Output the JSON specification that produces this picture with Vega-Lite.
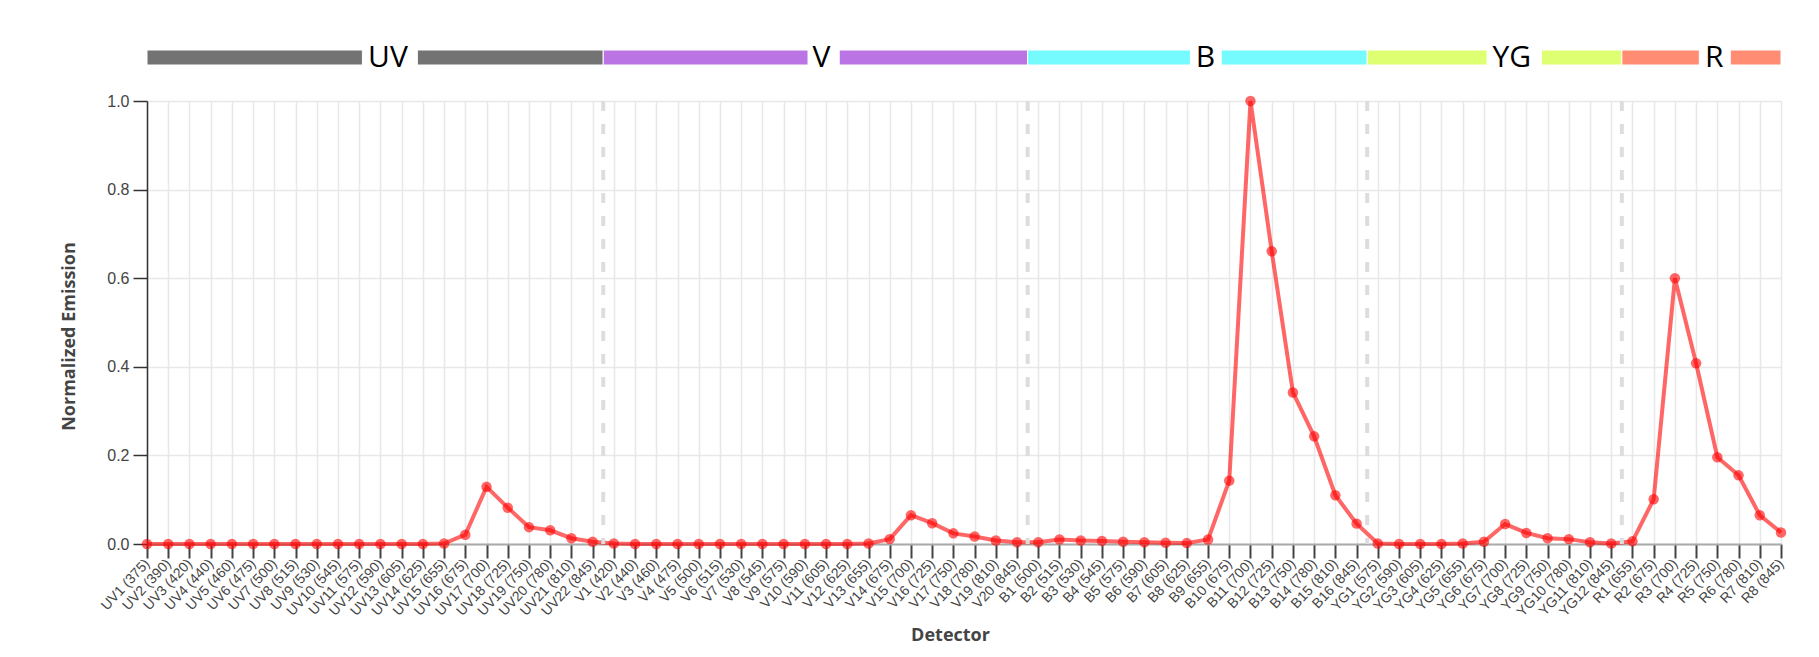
{
  "$schema": "https://vega.github.io/schema/vega-lite/v6.json",
  "padding": {"left": 60, "top": 42, "right": 10, "bottom": 10},
  "background": "white",
  "config": {
    "view": {"stroke": null},
    "axis": {"labelFont": "Liberation Sans", "titleFont": "Open Sans", "labelColor": "#444", "titleColor": "#444"}
  },
  "datasets": {
    "emission": [
      {"detector": "UV1 (375)", "value": 0},
      {"detector": "UV2 (390)", "value": 0},
      {"detector": "UV3 (420)", "value": 0},
      {"detector": "UV4 (440)", "value": 0},
      {"detector": "UV5 (460)", "value": 0},
      {"detector": "UV6 (475)", "value": 0},
      {"detector": "UV7 (500)", "value": 0},
      {"detector": "UV8 (515)", "value": 0},
      {"detector": "UV9 (530)", "value": 0},
      {"detector": "UV10 (545)", "value": 0},
      {"detector": "UV11 (575)", "value": 0},
      {"detector": "UV12 (590)", "value": 0},
      {"detector": "UV13 (605)", "value": 0},
      {"detector": "UV14 (625)", "value": 0},
      {"detector": "UV15 (655)", "value": 0.001},
      {"detector": "UV16 (675)", "value": 0.021},
      {"detector": "UV17 (700)", "value": 0.129},
      {"detector": "UV18 (725)", "value": 0.082},
      {"detector": "UV19 (750)", "value": 0.038},
      {"detector": "UV20 (780)", "value": 0.031},
      {"detector": "UV21 (810)", "value": 0.013},
      {"detector": "UV22 (845)", "value": 0.005},
      {"detector": "V1 (420)", "value": 0.001},
      {"detector": "V2 (440)", "value": 0},
      {"detector": "V3 (460)", "value": 0},
      {"detector": "V4 (475)", "value": 0},
      {"detector": "V5 (500)", "value": 0},
      {"detector": "V6 (515)", "value": 0},
      {"detector": "V7 (530)", "value": 0},
      {"detector": "V8 (545)", "value": 0},
      {"detector": "V9 (575)", "value": 0},
      {"detector": "V10 (590)", "value": 0},
      {"detector": "V11 (605)", "value": 0},
      {"detector": "V12 (625)", "value": 0},
      {"detector": "V13 (655)", "value": 0.001},
      {"detector": "V14 (675)", "value": 0.011},
      {"detector": "V15 (700)", "value": 0.065},
      {"detector": "V16 (725)", "value": 0.047},
      {"detector": "V17 (750)", "value": 0.024},
      {"detector": "V18 (780)", "value": 0.017},
      {"detector": "V19 (810)", "value": 0.008},
      {"detector": "V20 (845)", "value": 0.004},
      {"detector": "B1 (500)", "value": 0.004},
      {"detector": "B2 (515)", "value": 0.01},
      {"detector": "B3 (530)", "value": 0.008},
      {"detector": "B4 (545)", "value": 0.007},
      {"detector": "B5 (575)", "value": 0.005},
      {"detector": "B6 (590)", "value": 0.004},
      {"detector": "B7 (605)", "value": 0.003},
      {"detector": "B8 (625)", "value": 0.002},
      {"detector": "B9 (655)", "value": 0.01},
      {"detector": "B10 (675)", "value": 0.143},
      {"detector": "B11 (700)", "value": 1.0},
      {"detector": "B12 (725)", "value": 0.661},
      {"detector": "B13 (750)", "value": 0.342},
      {"detector": "B14 (780)", "value": 0.243},
      {"detector": "B15 (810)", "value": 0.11},
      {"detector": "B16 (845)", "value": 0.046},
      {"detector": "YG1 (575)", "value": 0.001},
      {"detector": "YG2 (590)", "value": 0},
      {"detector": "YG3 (605)", "value": 0},
      {"detector": "YG4 (625)", "value": 0},
      {"detector": "YG5 (655)", "value": 0.001},
      {"detector": "YG6 (675)", "value": 0.005},
      {"detector": "YG7 (700)", "value": 0.045},
      {"detector": "YG8 (725)", "value": 0.025},
      {"detector": "YG9 (750)", "value": 0.013},
      {"detector": "YG10 (780)", "value": 0.011},
      {"detector": "YG11 (810)", "value": 0.004},
      {"detector": "YG12 (845)", "value": 0.001},
      {"detector": "R1 (655)", "value": 0.006},
      {"detector": "R2 (675)", "value": 0.101},
      {"detector": "R3 (700)", "value": 0.6},
      {"detector": "R4 (725)", "value": 0.408},
      {"detector": "R5 (750)", "value": 0.196},
      {"detector": "R6 (780)", "value": 0.155},
      {"detector": "R7 (810)", "value": 0.065},
      {"detector": "R8 (845)", "value": 0.026}
    ],
    "segments": [
      {"group": "UV", "start": 0, "end": 10.15},
      {"group": "UV", "start": 12.74, "end": 21.5},
      {"group": "V", "start": 21.5, "end": 31.15},
      {"group": "V", "start": 32.62, "end": 41.5},
      {"group": "B", "start": 41.5, "end": 49.17},
      {"group": "B", "start": 50.62, "end": 57.5},
      {"group": "YG", "start": 57.5, "end": 63.15},
      {"group": "YG", "start": 65.71, "end": 69.5},
      {"group": "R", "start": 69.5, "end": 73.15},
      {"group": "R", "start": 74.61, "end": 77}
    ],
    "labels": [
      {"group": "UV", "pos": 10.42},
      {"group": "V", "pos": 31.36},
      {"group": "B", "pos": 49.42},
      {"group": "YG", "pos": 63.4},
      {"group": "R", "pos": 73.42}
    ],
    "bounds": [
      {"pos": 21.5},
      {"pos": 41.5},
      {"pos": 57.5},
      {"pos": 69.5}
    ]
  },
  "bounds": "flush",
  "spacing": 36,
  "vconcat": [
    {
      "width": 1634,
      "height": 15,
      "layer": [
        {
          "data": {"name": "segments"},
          "mark": {"type": "rect", "stroke": "white", "strokeWidth": 1},
          "encoding": {
            "x": {"field": "start", "type": "quantitative", "scale": {"domain": [0, 77], "nice": false, "zero": false}, "axis": null},
            "x2": {"field": "end"},
            "color": {
              "field": "group",
              "type": "nominal",
              "legend": null,
              "scale": {"domain": ["UV", "V", "B", "YG", "R"], "range": ["#737373", "#ba74e3", "#75fafd", "#dfff73", "#ff8c73"]}
            }
          }
        },
        {
          "data": {"name": "labels"},
          "mark": {"type": "text", "align": "left", "baseline": "middle", "font": "Open Sans", "fontSize": 30, "color": "black"},
          "encoding": {
            "x": {"field": "pos", "type": "quantitative"},
            "text": {"field": "group"}
          }
        }
      ]
    },
    {
      "width": 1634,
      "height": 443,
      "layer": [
        {
          "data": {"name": "emission"},
          "encoding": {
            "x": {
              "field": "detector",
              "type": "ordinal",
              "sort": null,
              "scale": {"type": "point", "padding": 0},
              "title": "Detector",
              "axis": {
                "grid": true, "gridColor": "#e8e8e8", "gridWidth": 1.5,
                "domainColor": "#aaa", "domainWidth": 2,
                "tickColor": "#444", "tickWidth": 2, "tickSize": 14,
                "labelAngle": -47, "labelFontSize": 14, "labelPadding": 3,
                "titleFontSize": 18, "titleFontWeight": "bold",
                "titleX": 803, "titleY": 96, "titleBaseline": "alphabetic"
              }
            },
            "y": {
              "field": "value",
              "type": "quantitative",
              "scale": {"domain": [0, 1], "nice": false},
              "title": "Normalized Emission",
              "axis": {
                "values": [0, 0.2, 0.4, 0.6, 0.8, 1.0], "format": ".1f",
                "grid": true, "gridColor": "#e8e8e8", "gridWidth": 1.5,
                "domainColor": "#333", "domainWidth": 1.5,
                "tickColor": "#333", "tickWidth": 1.5, "tickSize": 14,
                "labelFontSize": 16, "labelPadding": 4,
                "titleFontSize": 18, "titleFontWeight": "bold",
                "titleX": -78, "titleY": 235, "titleBaseline": "middle"
              }
            }
          },
          "layer": [
            {"mark": {"type": "line", "color": "red", "opacity": 0.6, "strokeWidth": 4}},
            {"mark": {"type": "circle", "color": "red", "opacity": 0.6, "size": 110}}
          ]
        },
        {
          "data": {"name": "bounds"},
          "mark": {"type": "rule", "color": "#ddd", "strokeWidth": 4, "strokeDash": [10, 13]},
          "encoding": {
            "x": {"field": "pos", "type": "quantitative", "scale": {"domain": [0, 77], "nice": false, "zero": false}, "axis": null}
          }
        }
      ],
      "resolve": {"scale": {"x": "independent"}}
    }
  ]
}
